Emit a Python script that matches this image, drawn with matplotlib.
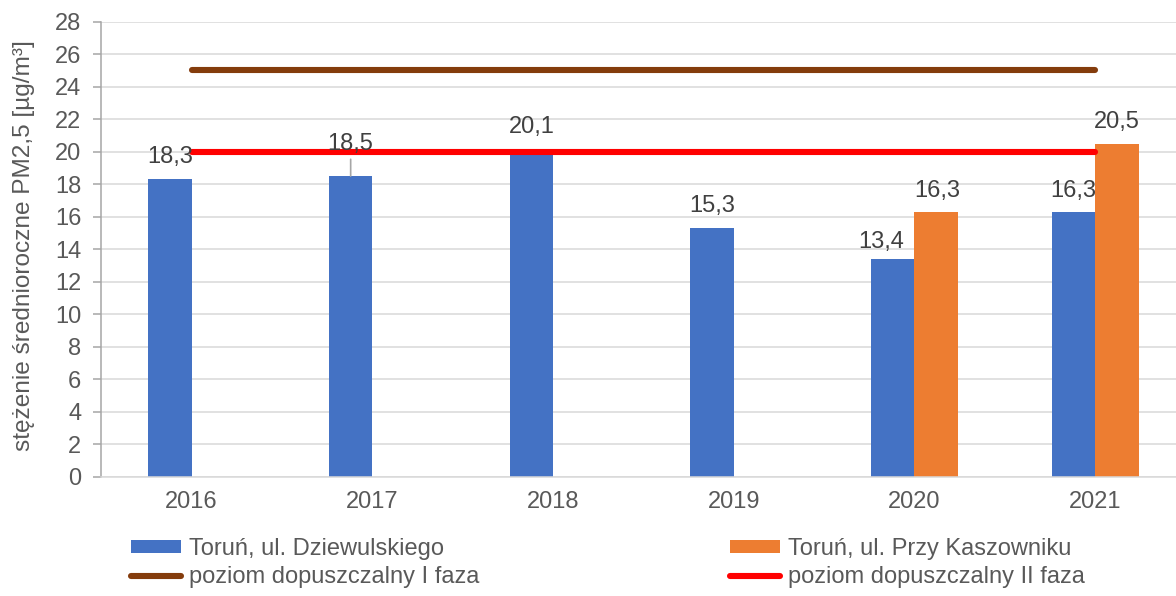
import matplotlib
matplotlib.use("Agg")
import matplotlib.pyplot as plt
import numpy as np

years = ["2016", "2017", "2018", "2019", "2020", "2021"]
dziewulskiego = [18.3, 18.5, 20.1, 15.3, 13.4, 16.3]
kaszownik = [np.nan, np.nan, np.nan, np.nan, 16.3, 20.5]
limit_phase1 = [25, 25, 25, 25, 25, 25]
limit_phase2 = [20, 20, 20, 20, 20, 20]

series_names = ["Toruń, ul. Dziewulskiego", "Toruń, ul. Przy Kaszowniku",
                "poziom dopuszczalny I faza", "poziom dopuszczalny II faza"]
y_ticks = list(range(0, 29, 2))
y_label = "stężenie średnioroczne PM2,5 [µg/m³]"

plt.rcParams['font.family'] = ['Liberation Sans', 'DejaVu Sans']

W, H = 1176, 596
fig = plt.figure(figsize=(W / 100, H / 100), dpi=100)
ax = fig.add_axes([101.3 / W, (H - 476.7) / H, (W - 101.3) / W, (476.7 - 21.7) / H])

x = np.arange(len(years))
bw = 0.24
blue = "#4472C4"
orange = "#ED7D31"
brown = "#843C0C"
red = "#FF0000"
txt = "#404040"
tick_c = "#595959"

b1 = ax.bar(x - bw / 2, dziewulskiego, width=bw, color=blue, zorder=2, label=series_names[0])
b2 = ax.bar(x + bw / 2, kaszownik, width=bw, color=orange, zorder=2, label=series_names[1])
l1, = ax.plot(x, limit_phase1, color=brown, lw=4.4, solid_capstyle='round', zorder=3, label=series_names[2])
l2, = ax.plot(x, limit_phase2, color=red, lw=4.4, solid_capstyle='round', zorder=3, label=series_names[3])

ax.set_xlim(-0.5, -0.5 + (W - 101.3) / 180.7)
ax.set_ylim(0, 28)
ax.set_yticks(y_ticks)
ax.set_xticks(x)
ax.set_xticklabels(years)

ax.yaxis.grid(True, color="#D9D9D9", lw=1.1, zorder=0)
ax.set_axisbelow(True)
for s in ["top", "right"]:
    ax.spines[s].set_visible(False)
ax.spines["left"].set_color("#A6A6A6")
ax.spines["bottom"].set_color("#D9D9D9")
ax.spines["left"].set_linewidth(1.1)
ax.spines["bottom"].set_linewidth(1.1)
ax.tick_params(axis='y', length=5.5, width=1.1, color="#A6A6A6", pad=9,
               labelsize=17, labelcolor=tick_c)
ax.tick_params(axis='x', length=0, pad=10, labelsize=17, labelcolor=tick_c)

ax.set_ylabel(y_label, fontsize=17.6, color=tick_c)
ax.yaxis.set_label_coords(-0.062, 0.508)

fmt = lambda v: f"{v:.1f}".replace(".", ",")
# label offsets in pixels (dx, dy to baseline)
off_blue = [(0, 16.5), (0, 26), (0, 17), (0, 16), (-12, 11), (0, 15)]
off_orange = [None, None, None, None, (1, 15), (0, 15.5)]
for i, v in enumerate(dziewulskiego):
    dx, dy = off_blue[i]
    kw = {}
    if i == 1:
        kw = dict(arrowprops=dict(arrowstyle='-', color="#A6A6A6", lw=1.2,
                                  shrinkA=1, shrinkB=0))
    ax.annotate(fmt(v), xy=(x[i] - bw / 2, v), xytext=(dx, dy),
                textcoords='offset pixels', ha='center', va='baseline',
                fontsize=17, color=txt, zorder=5, **kw)
for i, v in enumerate(kaszownik):
    if np.isnan(v):
        continue
    dx, dy = off_orange[i]
    ax.annotate(fmt(v), xy=(x[i] + bw / 2, v), xytext=(dx, dy),
                textcoords='offset pixels', ha='center', va='baseline',
                fontsize=17, color=txt, zorder=5)

fig.legend(handles=[b1, l1, b2, l2], loc='upper left',
           bbox_to_anchor=(131 / W, (H - 538) / H), ncol=2, frameon=False,
           fontsize=17, labelcolor=tick_c, borderpad=0, borderaxespad=0,
           handlelength=2.12, handleheight=0.45, handletextpad=0.34,
           columnspacing=10.6, labelspacing=0.25)

fig.savefig("out.png", dpi=100)
